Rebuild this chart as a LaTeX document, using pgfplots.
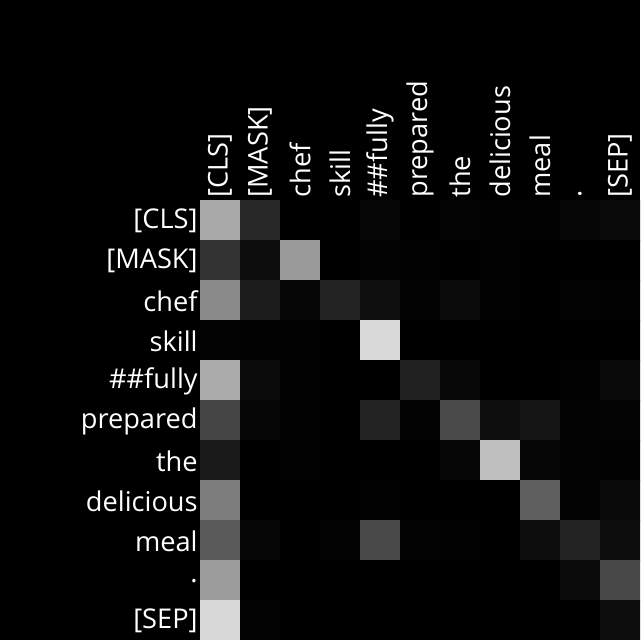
\documentclass[border=0pt]{standalone}
\usepackage{fontspec}
\setmainfont{Open Sans}
\usepackage{pgfplots}
\pgfplotsset{compat=1.18}
\begin{document}
\begin{tikzpicture}
\fill[black] (0,0) rectangle (320pt,320pt);
\useasboundingbox (0,0) rectangle (320pt,320pt);
\begin{axis}[
  at={(100pt,0pt)}, anchor=south west,
  scale only axis, width=220pt, height=220pt,
  xmin=-0.5, xmax=10.5, ymin=-0.5, ymax=10.5,
  y dir=reverse,
  axis line style={draw=none},
  major tick length=0pt,
  xtick={0,...,10}, ytick={0,...,10},
  xticklabel pos=upper,
  xticklabels={{[CLS]},{[MASK]},chef,skill,\#\#fully,prepared,the,delicious,meal,.,{[SEP]}},
  yticklabels={{[CLS]},{[MASK]},chef,skill,\#\#fully,prepared,the,delicious,meal,.,{[SEP]}},
  xticklabel style={rotate=90, anchor=west, inner sep=1pt, text=white, font=\fontsize{13.6}{16}\selectfont},
  yticklabel style={anchor=east, inner sep=1pt, yshift=-0.5pt, text=white, font=\fontsize{13.6}{16}\selectfont},
  colormap={bw}{color=(black) color=(white)},
  point meta min=0, point meta max=255,
]
\addplot[matrix plot*, mesh/cols=11, point meta=explicit] table[meta=c] {
x y c
0 0 168
1 0 40
2 0 0
3 0 0
4 0 5
5 0 0
6 0 4
7 0 2
8 0 1
9 0 5
10 0 9
0 1 51
1 1 12
2 1 153
3 1 0
4 1 3
5 1 2
6 1 0
7 1 1
8 1 0
9 1 0
10 1 0
0 2 136
1 2 28
2 2 5
3 2 35
4 2 15
5 2 3
6 2 11
7 2 1
8 2 0
9 2 3
10 2 1
0 3 3
1 3 1
2 3 1
3 3 0
4 3 216
5 3 0
6 3 0
7 3 0
8 3 0
9 3 0
10 3 0
0 4 170
1 4 11
2 4 2
3 4 0
4 4 0
5 4 33
6 4 8
7 4 0
8 4 0
9 4 1
10 4 10
0 5 69
1 5 5
2 5 2
3 5 0
4 5 35
5 5 3
6 5 74
7 5 14
8 5 21
9 5 3
10 5 4
0 6 26
1 6 0
2 6 1
3 6 0
4 6 0
5 6 0
6 6 6
7 6 190
8 6 6
9 6 3
10 6 1
0 7 124
1 7 0
2 7 0
3 7 0
4 7 1
5 7 0
6 7 0
7 7 0
8 7 94
9 7 3
10 7 10
0 8 88
1 8 6
2 8 0
3 8 3
4 8 72
5 8 3
6 8 2
7 8 0
8 8 12
9 8 34
10 8 13
0 9 154
1 9 0
2 9 0
3 9 0
4 9 0
5 9 0
6 9 0
7 9 0
8 9 0
9 9 11
10 9 71
0 10 214
1 10 3
2 10 0
3 10 0
4 10 0
5 10 0
6 10 0
7 10 0
8 10 0
9 10 0
10 10 13
};
\end{axis}
\end{tikzpicture}
\end{document}
